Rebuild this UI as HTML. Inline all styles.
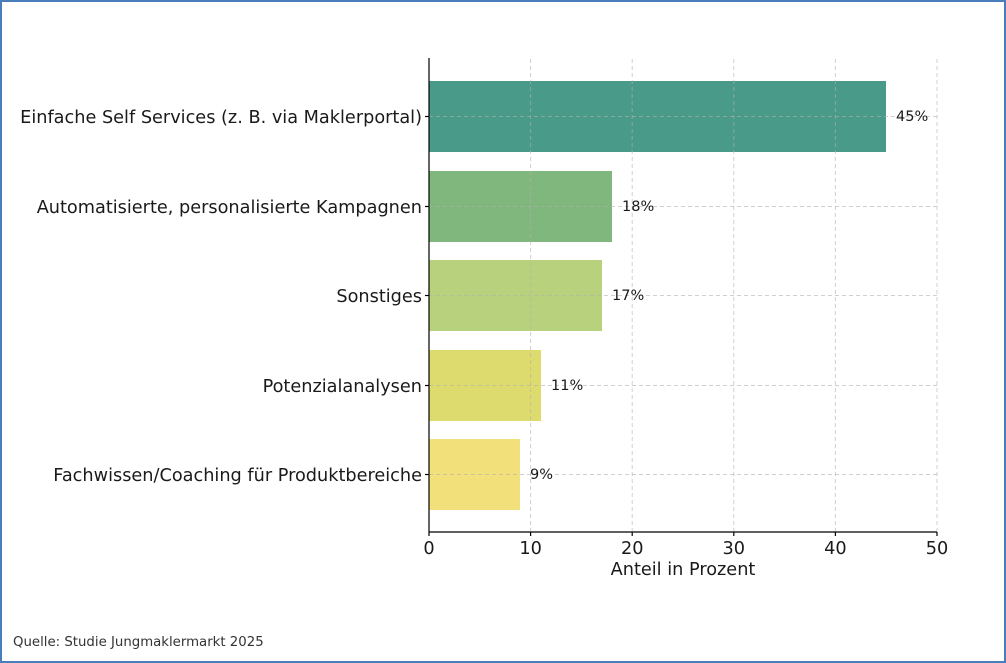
<!DOCTYPE html>
<html><head><meta charset="utf-8"><style>
html,body{margin:0;padding:0;background:#fff;}
svg{display:block;font-family:"DejaVu Sans","Liberation Sans",sans-serif;}
</style></head><body>
<svg width="1006" height="663" viewBox="0 0 1006 663" xmlns="http://www.w3.org/2000/svg">
<rect x="1" y="1" width="1004" height="661" fill="#fff" stroke="#4a7ebb" stroke-width="2"/>
<rect x="429" y="81" width="457" height="71" fill="#4a9a8a"/>
<rect x="429" y="171" width="183" height="71" fill="#7fb77c"/>
<rect x="429" y="260" width="173" height="71" fill="#b8d17c"/>
<rect x="429" y="350" width="112" height="71" fill="#dedb6e"/>
<rect x="429" y="439" width="91" height="71" fill="#f2e07a"/>
<g stroke="#b0b0b0" stroke-opacity="0.6" stroke-dasharray="4,3" stroke-width="1">
<line x1="530.6" y1="59" x2="530.6" y2="531"/>
<line x1="632.2" y1="59" x2="632.2" y2="531"/>
<line x1="733.8" y1="59" x2="733.8" y2="531"/>
<line x1="835.4" y1="59" x2="835.4" y2="531"/>
<line x1="937" y1="59" x2="937" y2="531"/>
<line x1="429" y1="116.5" x2="937" y2="116.5"/>
<line x1="429" y1="206.5" x2="937" y2="206.5"/>
<line x1="429" y1="295.5" x2="937" y2="295.5"/>
<line x1="429" y1="385.5" x2="937" y2="385.5"/>
<line x1="429" y1="474.5" x2="937" y2="474.5"/>
</g>
<g stroke="#000" stroke-width="1.2">
<line x1="429" y1="58" x2="429" y2="532"/>
<line x1="429" y1="532" x2="937" y2="532"/>
<line x1="429" y1="532" x2="429" y2="536"/><line x1="530.6" y1="532" x2="530.6" y2="536"/>
<line x1="632.2" y1="532" x2="632.2" y2="536"/><line x1="733.8" y1="532" x2="733.8" y2="536"/>
<line x1="835.4" y1="532" x2="835.4" y2="536"/><line x1="937" y1="532" x2="937" y2="536"/>
<line x1="425" y1="116.5" x2="429" y2="116.5"/><line x1="425" y1="206.5" x2="429" y2="206.5"/>
<line x1="425" y1="295.5" x2="429" y2="295.5"/><line x1="425" y1="385.5" x2="429" y2="385.5"/>
<line x1="425" y1="474.5" x2="429" y2="474.5"/>
</g>
<g font-size="17.7" fill="#1a1a1a" text-anchor="end">
<text x="422" y="123">Einfache Self Services (z. B. via Maklerportal)</text>
<text x="422" y="213">Automatisierte, personalisierte Kampagnen</text>
<text x="422" y="302">Sonstiges</text>
<text x="422" y="392">Potenzialanalysen</text>
<text x="422" y="481">Fachwissen/Coaching für Produktbereiche</text>
</g>
<g font-size="14.5" fill="#1a1a1a">
<text x="896" y="121">45%</text>
<text x="622" y="211">18%</text>
<text x="612" y="300">17%</text>
<text x="551" y="390">11%</text>
<text x="530" y="479">9%</text>
</g>
<g font-size="17.7" fill="#1a1a1a" text-anchor="middle">
<text x="429" y="554">0</text><text x="530.6" y="554">10</text><text x="632.2" y="554">20</text>
<text x="733.8" y="554">30</text><text x="835.4" y="554">40</text><text x="937" y="554">50</text>
<text x="683" y="575">Anteil in Prozent</text>
</g>
<text x="13" y="646" font-size="13.3" fill="#333">Quelle: Studie Jungmaklermarkt 2025</text>
</svg>
</body></html>
